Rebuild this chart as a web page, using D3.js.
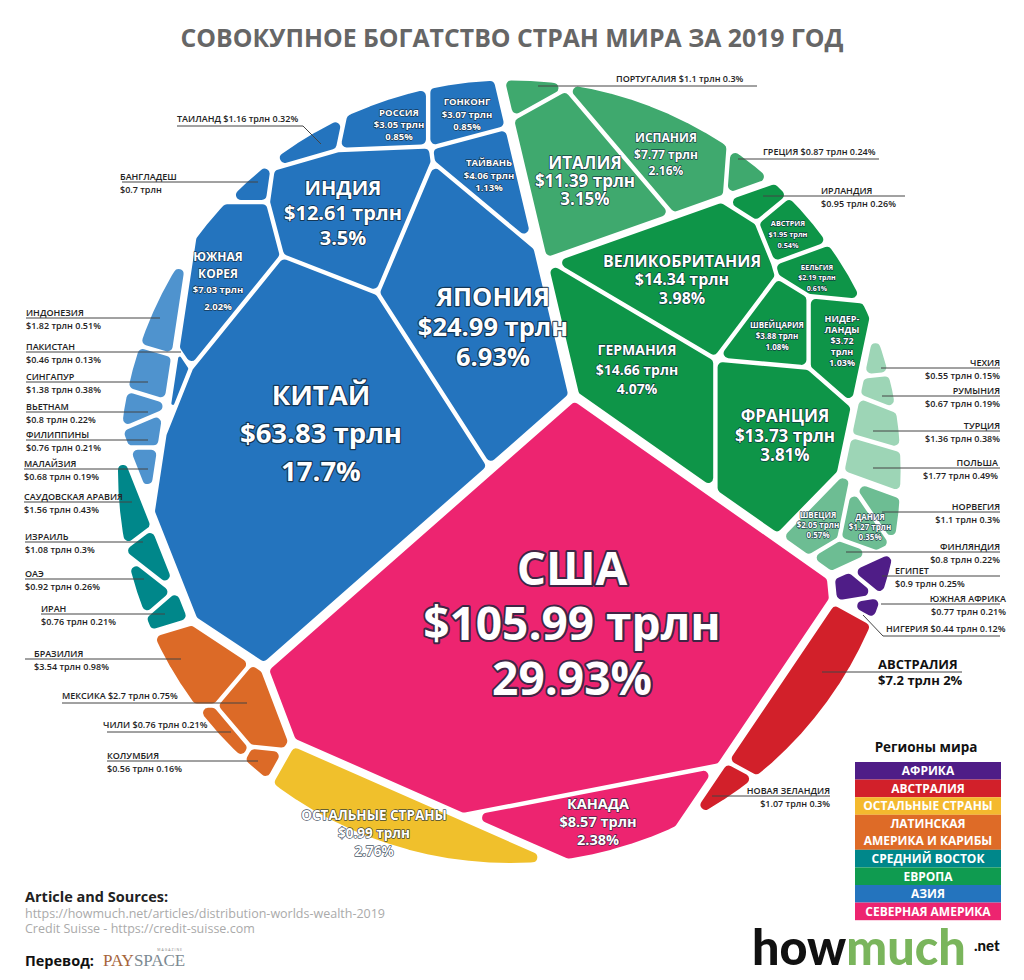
<!DOCTYPE html>
<html lang="ru">
<head>
<meta charset="utf-8">
<title>Совокупное богатство стран мира за 2019 год</title>
<script src="https://cdnjs.cloudflare.com/ajax/libs/d3/7.8.5/d3.min.js"></script>
<style>
  html, body { margin: 0; padding: 0; background: #fff; }
  svg { display: block; font-family: "Open Sans", sans-serif; }
</style>
</head>
<body>
<svg id="chart" width="1024" height="980"></svg>
<script>
// ---- data ----
const regions = ["Северная Америка", "Азия", "Европа", "Средний Восток", "Латинская Америка", "Остальные", "Австралия", "Африка"];

const countries = ["США", "КАНАДА",
  "КИТАЙ", "ЯПОНИЯ", "ИНДИЯ", "ЮЖНАЯ КОРЕЯ", "ТАЙВАНЬ", "ГОНКОНГ", "РОССИЯ", "ТАИЛАНД", "БАНГЛАДЕШ", "ПАКИСТАН", "ИНДОНЕЗИЯ", "СИНГАПУР", "ВЬЕТНАМ", "ФИЛИППИНЫ", "МАЛАЙЗИЯ",
  "ИТАЛИЯ", "ИСПАНИЯ", "ПОРТУГАЛИЯ", "ГРЕЦИЯ", "ИРЛАНДИЯ", "АВСТРИЯ", "БЕЛЬГИЯ", "НИДЕРЛАНДЫ", "ВЕЛИКОБРИТАНИЯ", "ШВЕЙЦАРИЯ", "ГЕРМАНИЯ", "ФРАНЦИЯ", "ЧЕХИЯ", "РУМЫНИЯ", "ТУРЦИЯ", "ПОЛЬША", "НОРВЕГИЯ", "ШВЕЦИЯ", "ДАНИЯ", "ФИНЛЯНДИЯ",
  "САУДОВСКАЯ АРАВИЯ", "ИЗРАИЛЬ", "ОАЭ", "ИРАН",
  "БРАЗИЛИЯ", "МЕКСИКА", "ЧИЛИ", "КОЛУМБИЯ",
  "ОСТАЛЬНЫЕ СТРАНЫ",
  "АВСТРАЛИЯ", "НОВАЯ ЗЕЛАНДИЯ",
  "ЕГИПЕТ", "ЮЖНАЯ АФРИКА", "НИГЕРИЯ"];

const trillions = [105.99, 8.57,
  63.83, 24.99, 12.61, 7.03, 4.06, 3.07, 3.05, 1.16, 0.7, 0.46, 1.82, 1.38, 0.8, 0.76, 0.68,
  11.39, 7.77, 1.1, 0.87, 0.95, 1.95, 2.19, 3.72, 14.34, 3.88, 14.66, 13.73, 0.55, 0.67, 1.36, 1.77, 1.1, 2.05, 1.27, 0.8,
  1.56, 1.08, 0.92, 0.76,
  3.54, 2.7, 0.76, 0.56,
  0.99,
  7.2, 1.07,
  0.9, 0.77, 0.44];

const shares = [29.93, 2.38,
  17.7, 6.93, 3.5, 2.02, 1.13, 0.85, 0.85, 0.32, 0.19, 0.13, 0.51, 0.38, 0.22, 0.21, 0.19,
  3.15, 2.16, 0.3, 0.24, 0.26, 0.54, 0.61, 1.03, 3.98, 1.08, 4.07, 3.81, 0.15, 0.19, 0.38, 0.49, 0.3, 0.57, 0.35, 0.22,
  0.43, 0.3, 0.26, 0.21,
  0.98, 0.75, 0.21, 0.16,
  2.76,
  2, 0.3,
  0.25, 0.21, 0.12];

const regionOf = [0, 0,
  1, 1, 1, 1, 1, 1, 1, 1, 1, 1, 1, 1, 1, 1, 1,
  2, 2, 2, 2, 2, 2, 2, 2, 2, 2, 2, 2, 2, 2, 2, 2, 2, 2, 2, 2,
  3, 3, 3, 3,
  4, 4, 4, 4,
  5,
  6, 6,
  7, 7, 7];

// sub-groups inside Asia and Europe, the lighter tints in the picture
const groupOf = ["", "",
  "main", "main", "main", "main", "main", "main", "main", "main", "main", "main", "southeast", "southeast", "southeast", "southeast", "southeast",
  "south", "south", "south", "south", "west", "west", "west", "west", "west", "west", "west", "west", "east", "east", "east", "east", "north", "north", "north", "north",
  "", "", "", "",
  "", "", "", "",
  "",
  "", "",
  "", "", ""];

const legendNames = [["АФРИКА"], ["АВСТРАЛИЯ"], ["ОСТАЛЬНЫЕ СТРАНЫ"], ["ЛАТИНСКАЯ", "АМЕРИКА И КАРИБЫ"], ["СРЕДНИЙ ВОСТОК"], ["ЕВРОПА"], ["АЗИЯ"], ["СЕВЕРНАЯ АМЕРИКА"]];
const legendColors = ["#4f1d87", "#d2202a", "#f4b92e", "#de6b27", "#00878a", "#0f9b50", "#2474be", "#ed2470"];

// ---- layout: power diagram generators (they set the direction of each border, the areas come from shares) ----
const regionSites = [[528, 625], [330, 400], [757, 299], [-16, 537], [64, 801], [374, 975], [777, 793], [890, 590]];
const regionFill = [1, 1, 1, 1, 1, 1, 1, 0.85]; // Africa is drawn a little under its share
const groupSites = { main: [330, 390], southeast: [152, 363], west: [700, 320], south: [650, 179], east: [847, 351], north: [817, 434] };
const sites = [[560, 600], [579, 698],
  [320, 450], [452, 365], [367, 329], [219, 368], [497, 311], [458, 165], [360, 165], [317, 156], [219, 308], [180, 394], [150, 362], [140, 396], [131, 425], [143, 453], [143, 485],
  [610, 170], [663, 125], [576, 109], [730, 130], [745, 165], [792, 222], [796, 233], [788, 315], [681, 267], [745, 315], [620, 370], [740, 370], [879, 365], [882, 395], [869, 428], [858, 466], [889, 511], [825, 520], [864, 528], [851, 564],
  [134, 500], [158, 532], [133, 564], [159, 594],
  [195, 660], [241, 699], [195, 738], [235, 759],
  [395, 808],
  [790, 705], [752, 775],
  [877, 569], [858, 592], [862, 617]];

const groupColor = { south: "#3fa96e", east: "#9dd5b6", north: "#6dbd93", southeast: "#4f93ce" };
const regionColor = ["#ed2470", "#2474be", "#0e9548", "#00878a", "#dc6a27", "#f0c02c", "#d2202a", "#4f1d87"];

// name, centre x, centre y of first line, size, line step, optional lines / name size
const insideLabels = [
  ["США", 572, 568, 46, 55], ["КАНАДА", 598, 804, 14.5, 18], ["КИТАЙ", 321, 395, 27.5, 38], ["ЯПОНИЯ", 493, 297, 25.5, 30],
  ["ИНДИЯ", 343, 188, 20, 25], ["ЮЖНАЯ КОРЕЯ", 218, 257, 9.5, 16.5, ["ЮЖНАЯ", "КОРЕЯ"], 12],
  ["ТАЙВАНЬ", 489, 163, 9.5, 12.5], ["ГОНКОНГ", 467, 102, 9.5, 12.5], ["РОССИЯ", 399, 113, 9.5, 12],
  ["ИТАЛИЯ", 585, 163, 17, 18], ["ИСПАНИЯ", 666, 138, 12, 16.5], ["ВЕЛИКОБРИТАНИЯ", 682, 261, 16, 18.5],
  ["ГЕРМАНИЯ", 637, 350, 14, 19.5], ["ФРАНЦИЯ", 785, 416, 17, 19.5], ["АВСТРИЯ", 788, 223, 7.3, 11], ["БЕЛЬГИЯ", 817, 267, 7, 10.5],
  ["ШВЕЙЦАРИЯ", 777, 325, 8, 11], ["НИДЕРЛАНДЫ", 842, 319, 9, 11, ["НИДЕР-", "ЛАНДЫ"], 9], ["ШВЕЦИЯ", 818, 515, 8, 10], ["ДАНИЯ", 870, 517, 8, 10],
  ["ОСТАЛЬНЫЕ СТРАНЫ", 374, 815, 13.5, 18]
];

// name, text x, anchor, leader y, leader from, leader to, one line?, elbow point
const callouts = [
  ["ИНДОНЕЗИЯ", 26, "start", 318, 26, 160], ["ПАКИСТАН", 26, "start", 352, 26, 181], ["СИНГАПУР", 26, "start", 382, 26, 148],
  ["ВЬЕТНАМ", 26, "start", 412, 26, 148], ["ФИЛИППИНЫ", 26, "start", 440, 26, 148], ["МАЛАЙЗИЯ", 24, "start", 469, 24, 148],
  ["САУДОВСКАЯ АРАВИЯ", 24, "start", 502, 24, 132], ["ИЗРАИЛЬ", 25, "start", 542, 25, 143], ["ОАЭ", 25, "start", 579, 25, 144],
  ["ИРАН", 41, "start", 614, 41, 165], ["БРАЗИЛИЯ", 34, "start", 659, 25, 181], ["МЕКСИКА", 62, "start", 703, 62, 247, true],
  ["ЧИЛИ", 103, "start", 732, 107, 231, true], ["КОЛУМБИЯ", 107, "start", 761, 107, 258],
  ["БАНГЛАДЕШ", 120, "start", 182, 122, 258], ["ТАИЛАНД", 177, "start", 126, 177, 303, true, [321, 144]],
  ["ПОРТУГАЛИЯ", 616, "start", 86, 538, 757, true], ["ГРЕЦИЯ", 763, "start", 159, 738, 879, true], ["ИРЛАНДИЯ", 821, "start", 196, 763, 905],
  ["ЧЕХИЯ", 1000, "end", 368, 881, 1000], ["РУМЫНИЯ", 1000, "end", 396, 882, 1000], ["ТУРЦИЯ", 1000, "end", 431, 873, 1000],
  ["ПОЛЬША", 998, "end", 468, 873, 1000], ["НОРВЕГИЯ", 1000, "end", 512, 882, 1000], ["ФИНЛЯНДИЯ", 1000, "end", 552, 846, 1000],
  ["ЕГИПЕТ", 895, "start", 576, 882, 1000], ["ЮЖНАЯ АФРИКА", 1006, "end", 604, 881, 1000], ["НИГЕРИЯ", 886, "start", 636, 883, 1000, true, [863, 615]],
  ["НОВАЯ ЗЕЛАНДИЯ", 830, "end", 796, 712, 830]
];

// ---- power diagram helpers ----
const cx = 510, cy = 471, radius = 396;
const disc = d3.range(120).map(i => {
  const a = i / 120 * 2 * Math.PI;
  return [cx + radius * Math.cos(a), cy + radius * Math.sin(a)];
});

// keep the part of a convex polygon where a*x + b*y <= c
function clip(poly, a, b, c) {
  const out = [];
  for (let i = 0; i < poly.length; i++) {
    const p = poly[i], q = poly[(i + 1) % poly.length];
    const dp = a * p[0] + b * p[1] - c, dq = a * q[0] + b * q[1] - c;
    if (dp <= 0) out.push(p);
    if ((dp < 0 && dq > 0) || (dp > 0 && dq < 0)) {
      const t = dp / (dp - dq);
      out.push([p[0] + t * (q[0] - p[0]), p[1] + t * (q[1] - p[1])]);
    }
  }
  return out;
}

function area(poly) {
  return poly.length < 3 ? 0 : Math.abs(d3.polygonArea(poly));
}

function powerCell(i, pts, w, bound) {
  let poly = bound;
  pts.forEach((s, j) => {
    if (j === i || !poly.length) return;
    const a = 2 * (s[0] - pts[i][0]), b = 2 * (s[1] - pts[i][1]);
    const c = s[0] * s[0] + s[1] * s[1] - pts[i][0] * pts[i][0] - pts[i][1] * pts[i][1] + w[i] - w[j];
    poly = clip(poly, a, b, c);
  });
  return poly;
}

// fixed sites, weights pushed until every cell has its target area
function solveCells(pts, targets, bound) {
  const total = d3.sum(targets), boundArea = area(bound);
  const goal = targets.map(t => t / total * boundArea);
  const w = pts.map(() => 0);
  let polys = [];
  for (let it = 0; it < 4000; it++) {
    polys = pts.map((_, i) => powerCell(i, pts, w, bound));
    let worst = 0;
    const step = pts.map((s, i) => {
      const a = area(polys[i]);
      worst = Math.max(worst, Math.abs(a - goal[i]) / goal[i]);
      if (a < 1) return 2000;
      let slope = 0;
      polys[i].forEach((p, k) => {
        const q = polys[i][(k + 1) % polys[i].length];
        pts.forEach((o, j) => {
          if (j === i) return;
          const dx = o[0] - s[0], dy = o[1] - s[1], d = Math.hypot(dx, dy);
          const c = (o[0] * o[0] + o[1] * o[1] - s[0] * s[0] - s[1] * s[1] + w[i] - w[j]) / 2;
          if (Math.abs((dx * p[0] + dy * p[1] - c) / d) < 1e-6 && Math.abs((dx * q[0] + dy * q[1] - c) / d) < 1e-6) {
            slope += Math.hypot(q[0] - p[0], q[1] - p[1]) / (2 * d);
          }
        });
      });
      return slope > 0 ? (goal[i] - a) / slope : 0;
    });
    if (worst < 0.004) break;
    step.forEach((d, i) => { w[i] += 0.3 * d; });
  }
  return polys;
}

// shrink a convex polygon by g on every edge
function inset(poly, g) {
  if (poly.length < 3) return poly;
  const mid = d3.polygonCentroid(poly);
  let out = poly;
  for (let i = 0; i < poly.length && out.length; i++) {
    const p = poly[i], q = poly[(i + 1) % poly.length];
    const dx = q[0] - p[0], dy = q[1] - p[1], l = Math.hypot(dx, dy);
    if (l < 1e-6) continue;
    let nx = dy / l, ny = -dx / l;
    if (nx * (mid[0] - p[0]) + ny * (mid[1] - p[1]) > 0) { nx = -nx; ny = -ny; }
    out = clip(out, nx, ny, nx * p[0] + ny * p[1] - g);
  }
  return out;
}

// round the corners: shrink by r, then grow back with arcs, so sharp tips get cut off too
function roundedPath(poly, r0) {
  for (const r of [r0, r0 * 0.7, r0 * 0.45, r0 * 0.25]) {
    const core = inset(poly, r).filter((p, i, all) => {
      const q = all[(i + 1) % all.length];
      return Math.hypot(p[0] - q[0], p[1] - q[1]) > 0.3;
    });
    if (area(core) < 3 || core.length < 3) continue;
    const n = core.length, path = d3.path();
    const turn = d3.sum(core, (p, i) => {
      const q = core[(i + 1) % n];
      return p[0] * q[1] - q[0] * p[1];
    });
    const normal = i => {
      const p = core[i], q = core[(i + 1) % n], l = Math.hypot(q[0] - p[0], q[1] - p[1]);
      const sign = turn > 0 ? 1 : -1;
      return [sign * (q[1] - p[1]) / l, -sign * (q[0] - p[0]) / l];
    };
    core.forEach((p, i) => {
      const q = core[(i + 1) % n], a = normal(i), b = normal((i + 1) % n);
      if (i === 0) path.moveTo(p[0] + a[0] * r, p[1] + a[1] * r);
      path.lineTo(q[0] + a[0] * r, q[1] + a[1] * r);
      path.arc(q[0], q[1], r, Math.atan2(a[1], a[0]), Math.atan2(b[1], b[0]), turn < 0);
    });
    path.closePath();
    return path.toString();
  }
  return d3.line()(poly) + "Z";
}

// ---- layout: region > group > country ----
const pxPerShare = 4480;
const regionGap = 1.8, groupGap = 1.4, cellGap = 2.2;
const padded = (a, g) => a + 2.2 * Math.sqrt(a) * g; // cells lose their gap, small ones need a bit more before solving

const tree = regions.map((name, r) => {
  const idx = d3.range(countries.length).filter(i => regionOf[i] === r);
  const leaf = i => ({ index: i, site: sites[i], gap: cellGap, target: padded(shares[i] * pxPerShare, cellGap) });
  const node = { site: regionSites[r], gap: regionGap };
  const groups = Array.from(new Set(idx.map(i => groupOf[i]))).filter(g => g);
  if (groups.length) {
    node.children = groups.map(g => {
      const kids = idx.filter(i => groupOf[i] === g).map(leaf);
      return { site: groupSites[g], gap: groupGap, children: kids, target: padded(d3.sum(kids, k => k.target), groupGap) };
    });
  } else {
    node.children = idx.map(leaf);
  }
  node.target = padded(d3.sum(node.children, k => k.target), regionGap) * regionFill[r];
  return node;
});

const cells = [];
function place(nodes, bound) {
  const polys = nodes.length > 1 ? solveCells(nodes.map(n => n.site), nodes.map(n => n.target), bound) : [bound];
  nodes.forEach((n, k) => {
    const inner = inset(polys[k], n.gap);
    if (n.children) place(n.children, inner);
    else cells.push({ name: countries[n.index], region: regionOf[n.index], group: groupOf[n.index], poly: inner });
  });
}
place(tree, disc);

// ---- drawing ----
const svg = d3.select("#chart");
const moneyText = name => "$" + trillions[countries.indexOf(name)] + " трлн";
const shareText = name => shares[countries.indexOf(name)] + "%";

svg.append("text").attr("x", 512).attr("y", 47).attr("text-anchor", "middle")
  .attr("font-size", 24.8).attr("font-weight", 700).attr("fill", "#666")
  .text("СОВОКУПНОЕ БОГАТСТВО СТРАН МИРА ЗА 2019 ГОД");

svg.append("g").selectAll("path").data(cells).join("path")
  .attr("d", d => roundedPath(d.poly, d.name === "ПАКИСТАН" ? 1.5 : 5)) // Pakistan keeps its pointed ends
  .attr("fill", d => groupColor[d.group] || regionColor[d.region]);

// labels inside the cells
const insideG = svg.append("g").attr("text-anchor", "middle").attr("font-weight", 700).attr("fill", "#fff")
  .attr("stroke", "#10263a").attr("stroke-opacity", 0.8).attr("stroke-linejoin", "round").style("paint-order", "stroke");
insideLabels.forEach(([name, x, y, size, step, nameLines, nameSize]) => {
  const head = (nameLines || [name]).map(t => ({ t, s: nameSize || size }));
  let tail = [moneyText(name), shareText(name)];
  if (name === "НИДЕРЛАНДЫ") tail = ["$3.72", "трлн", shareText(name)];
  const rows = head.concat(tail.map(t => ({ t, s: size })));
  insideG.selectAll(null).data(rows).join("text")
    .attr("x", x).attr("y", (d, i) => y + i * step).attr("dy", "0.36em")
    .attr("font-size", d => d.s).attr("stroke-width", d => Math.max(1.4, d.s * 0.09))
    .text(d => d.t);
});

// callouts outside the circle
const outG = svg.append("g").attr("font-size", 9).attr("font-weight", 600).attr("fill", "#222");
callouts.forEach(([name, x, anchor, y, from, to, oneLine, elbow]) => {
  const pts = elbow ? (elbow[0] > to ? [[from, y], [to, y], elbow] : [elbow, [from, y], [to, y]]) : [[from, y], [to, y]];
  outG.append("path").attr("d", d3.line()(pts)).attr("fill", "none").attr("stroke", "#444").attr("stroke-width", 1);
  const money = moneyText(name) + (name === "БАНГЛАДЕШ" ? "" : " " + shareText(name));
  if (oneLine) {
    outG.append("text").attr("x", x).attr("y", y - 4.5).attr("text-anchor", anchor).text(name + " " + money);
  } else {
    outG.append("text").attr("x", x).attr("y", y - 2.5).attr("text-anchor", anchor).text(name);
    outG.append("text").attr("x", x).attr("y", y + 10.5).attr("text-anchor", anchor).text(money);
  }
});

// Australia gets a bigger callout
svg.append("path").attr("d", d3.line()([[822, 672], [962, 672]])).attr("stroke", "#444").attr("stroke-width", 1);
svg.append("text").attr("x", 878).attr("y", 669).attr("font-size", 13).attr("font-weight", 700).attr("fill", "#111").text("АВСТРАЛИЯ");
svg.append("text").attr("x", 878).attr("y", 685).attr("font-size", 13).attr("font-weight", 700).attr("fill", "#111").text("$7.2 трлн 2%");

// legend
svg.append("text").attr("x", 926).attr("y", 752).attr("text-anchor", "middle").attr("font-size", 13.5).attr("font-weight", 700).attr("fill", "#111").text("Регионы мира");
let yPos = 762;
legendNames.forEach((lines, i) => {
  const h = lines.length > 1 ? 35 : 17.6;
  svg.append("rect").attr("x", 855).attr("y", yPos).attr("width", 146).attr("height", h).attr("fill", legendColors[i]);
  lines.forEach((t, k) => {
    svg.append("text").attr("x", 928).attr("y", yPos + (k + 0.5) * (h / lines.length)).attr("dy", "0.36em")
      .attr("text-anchor", "middle").attr("font-size", 12).attr("font-weight", 700).attr("fill", "#fff").text(t);
  });
  yPos += h;
});

// footer
svg.append("text").attr("x", 25).attr("y", 902).attr("font-size", 14.5).attr("font-weight", 700).attr("fill", "#222").text("Article and Sources:");
svg.append("text").attr("x", 25).attr("y", 918).attr("font-size", 12.5).attr("fill", "#aaa").text("https://howmuch.net/articles/distribution-worlds-wealth-2019");
svg.append("text").attr("x", 25).attr("y", 933).attr("font-size", 12.5).attr("fill", "#aaa").text("Credit Suisse - https://credit-suisse.com");
svg.append("text").attr("x", 25).attr("y", 966).attr("font-size", 14.5).attr("font-weight", 700).attr("fill", "#111").text("Перевод:");
const pay = svg.append("text").attr("x", 103).attr("y", 966).attr("font-family", "Liberation Serif").attr("font-size", 17);
pay.append("tspan").attr("fill", "#a5643a").text("PAY");
pay.append("tspan").attr("fill", "#7c8a92").text("SPACE");
svg.append("text").attr("x", 183).attr("y", 951).attr("text-anchor", "end").attr("font-size", 3.5).attr("fill", "#888").attr("letter-spacing", 1).text("MAGAZINE");

const logo = svg.append("text").attr("x", 752).attr("y", 965).attr("font-family", "Lato").attr("font-weight", 900).attr("font-size", 48.5);
logo.append("tspan").attr("fill", "#111").text("how");
logo.append("tspan").attr("fill", "#7ab55c").text("much");
svg.append("text").attr("x", 974).attr("y", 951).attr("font-family", "Lato").attr("font-weight", 900).attr("font-size", 15).attr("fill", "#111").text(".net");
</script>
</body>
</html>
